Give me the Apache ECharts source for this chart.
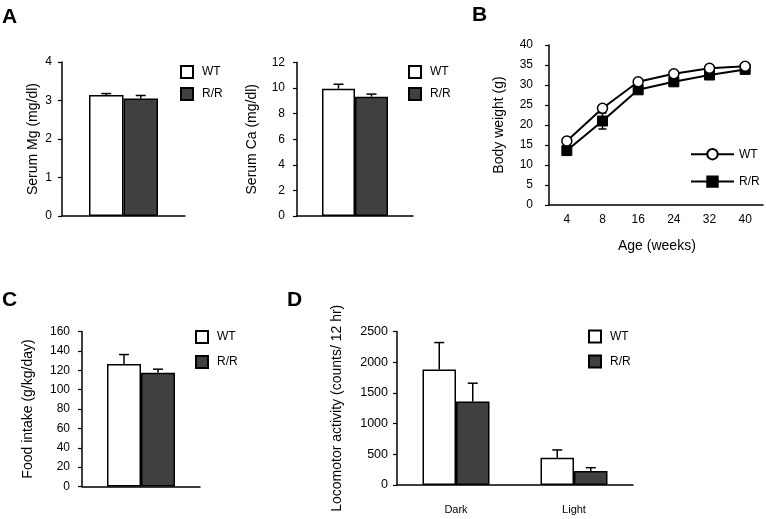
<!DOCTYPE html>
<html><head><meta charset="utf-8">
<script src="https://cdn.jsdelivr.net/npm/echarts@6/dist/echarts.min.js"></script>
<style>html,body{margin:0;padding:0;background:#fff}#c{width:766px;height:519px}</style>
</head><body><div id="c"></div>
<script>
// ---- data ----
const mgCats = ['Mg'];
const mgWT = [3.14], mgWTErr = [0.04];
const mgRR = [3.05], mgRRErr = [0.08];

const caCats = ['Ca'];
const caWT = [9.95], caWTErr = [0.35];
const caRR = [9.33], caRRErr = [0.2];

const ageCats = ['4', '8', '16', '24', '32', '40'];
const bwWT = [16.0, 24.2, 30.8, 32.8, 34.2, 34.7];
const bwWTErr = [0.5, 0.6, 0.5, 0.5, 0.6, 0.5];
const bwRR = [13.6, 21.0, 28.8, 30.8, 32.5, 33.9];
const bwRRErr = [0.6, 2.0, 0.6, 0.6, 0.6, 0.5];

const foodCats = ['Food'];
const foodWT = [126.5], foodWTErr = [9.7];
const foodRR = [117.5], foodRRErr = [3.6];

const locoCats = ['Dark', 'Light'];
const locoWT = [1880, 445], locoWTErr = [440, 126];
const locoRR = [1358, 228], locoRRErr = [300, 54];

const yTicksMg = [0, 4, 1], yTicksCa = [0, 12, 2], yTicksBW = [0, 40, 5], yTicksFood = [0, 160, 20], yTicksLoco = [0, 2500, 500];

// ---- styles ----
const FF = 'Liberation Sans, Arial, sans-serif';
const BLACK = '#000';
const DARK = '#404040';

function errData(vals, errs) { return vals.map((v, i) => [i, v, errs[i]]); }

function upErr(offset) {
  return function (params, api) {
    const x = api.value(0), v = api.value(1), e = api.value(2);
    const b = api.coord([x, v]), t = api.coord([x, v + e]);
    const cx = b[0] + offset, hw = 5;
    const st = { stroke: BLACK, lineWidth: 1.5 };
    return { type: 'group', children: [
      { type: 'line', shape: { x1: cx, y1: b[1], x2: cx, y2: t[1] }, style: st },
      { type: 'line', shape: { x1: cx - hw, y1: t[1], x2: cx + hw, y2: t[1] }, style: st }
    ]};
  };
}
function bothErr(params, api) {
  const x = api.value(0), v = api.value(1), e = api.value(2);
  const lo = api.coord([x, v - e]), hi = api.coord([x, v + e]);
  const cx = lo[0], hw = 4;
  const st = { stroke: BLACK, lineWidth: 1.5 };
  return { type: 'group', children: [
    { type: 'line', shape: { x1: cx, y1: lo[1], x2: cx, y2: hi[1] }, style: st },
    { type: 'line', shape: { x1: cx - hw, y1: lo[1], x2: cx + hw, y2: lo[1] }, style: st },
    { type: 'line', shape: { x1: cx - hw, y1: hi[1], x2: cx + hw, y2: hi[1] }, style: st }
  ]};
}

function yAxis(gi, ticks, name, nameGap, labelMargin, fs) {
  return {
    type: 'value', gridIndex: gi, min: ticks[0], max: ticks[1], interval: ticks[2],
    name: name, nameLocation: 'middle', nameGap: nameGap, nameRotate: 90,
    nameTextStyle: { fontFamily: FF, fontSize: 14, color: BLACK },
    axisLine: { show: true, lineStyle: { color: BLACK, width: 1.5 } },
    axisTick: { show: true, length: 4, lineStyle: { color: BLACK, width: 1.2 } },
    axisLabel: { fontFamily: FF, fontSize: fs || 12, color: BLACK, margin: labelMargin, formatter: v => String(v) },
    splitLine: { show: false }
  };
}
function xAxis(gi, cats, showLabels, margin, fs) {
  return {
    type: 'category', gridIndex: gi, data: cats,
    axisLine: { show: true, lineStyle: { color: BLACK, width: 1.5 } },
    axisTick: { show: false },
    axisLabel: { show: showLabels, fontFamily: FF, fontSize: fs || 12, color: BLACK, margin: margin || 8 },
    splitLine: { show: false }
  };
}
function barPair(gi, wt, rr, wtErr, rrErr, bw) {
  return [
    { name: 'WT', type: 'bar', xAxisIndex: gi, yAxisIndex: gi, data: wt, barWidth: bw, barGap: '0%',
      itemStyle: { color: '#fff', borderColor: BLACK, borderWidth: 1.5 } },
    { name: 'R/R', type: 'bar', xAxisIndex: gi, yAxisIndex: gi, data: rr, barWidth: bw, barGap: '0%',
      itemStyle: { color: DARK, borderColor: BLACK, borderWidth: 1.5 } },
    { type: 'custom', xAxisIndex: gi, yAxisIndex: gi, data: errData(wt, wtErr), renderItem: upErr(-bw / 2), z: 3, silent: true },
    { type: 'custom', xAxisIndex: gi, yAxisIndex: gi, data: errData(rr, rrErr), renderItem: upErr(bw / 2), z: 3, silent: true }
  ];
}
function barLegend(left, top, gap) {
  return {
    left: left, top: top, orient: 'vertical', padding: 0, itemWidth: 12, itemHeight: 12, itemGap: gap,
    icon: 'rect', selectedMode: false, data: ['WT', 'R/R'],
    textStyle: { fontFamily: FF, fontSize: 12, color: BLACK, padding: [0, 0, 0, 4] }
  };
}

const chart = echarts.init(document.getElementById('c'), null, { renderer: 'canvas' });
const option = {
  animation: false,
  backgroundColor: '#fff',
  grid: [
    { left: 62, top: 62, width: 123, height: 154 },
    { left: 297, top: 62.5, width: 116, height: 153.5 },
    { left: 549, top: 45, width: 214, height: 160 },
    { left: 82, top: 331.5, width: 118, height: 155 },
    { left: 397, top: 331.5, width: 236, height: 153.5 }
  ],
  xAxis: [
    xAxis(0, mgCats, false),
    xAxis(1, caCats, false),
    xAxis(2, ageCats, true, 9, 12),
    xAxis(3, foodCats, false),
    xAxis(4, locoCats, true, 19, 11)
  ],
  yAxis: [
    yAxis(0, yTicksMg, 'Serum Mg (mg/dl)', 22, 10),
    yAxis(1, yTicksCa, 'Serum Ca (mg/dl)', 38, 12),
    yAxis(2, yTicksBW, 'Body weight (g)', 43, 16),
    yAxis(3, yTicksFood, 'Food intake (g/kg/day)', 47, 12),
    yAxis(4, yTicksLoco, 'Locomotor activity (counts/ 12 hr)', 53, 9, 12.5)
  ],
  legend: [
    barLegend(180, 65, 8),
    barLegend(408, 65, 8),
    { left: 690, top: 148, orient: 'vertical', padding: 0, itemWidth: 43, itemHeight: 13, itemGap: 15,
      selectedMode: false, data: ['WT-line', 'R/R-line'], formatter: n => n.replace('-line', ''),
      textStyle: { fontFamily: FF, fontSize: 12, color: BLACK } },
    barLegend(195, 330, 11),
    barLegend(588, 329.5, 11)
  ],
  graphic: [
    { type: 'text', left: 2, top: 7, style: { text: 'A', font: 'bold 21px ' + FF, fill: BLACK } },
    { type: 'text', left: 472, top: 5, style: { text: 'B', font: 'bold 21px ' + FF, fill: BLACK } },
    { type: 'text', left: 2, top: 290, style: { text: 'C', font: 'bold 21px ' + FF, fill: BLACK } },
    { type: 'text', left: 287, top: 290, style: { text: 'D', font: 'bold 21px ' + FF, fill: BLACK } },
    { type: 'text', left: 618, top: 239, style: { text: 'Age (weeks)', font: '14px ' + FF, fill: BLACK } }
  ],
  series: [
    ...barPair(0, mgWT, mgRR, mgWTErr, mgRRErr, 34.5),
    ...barPair(1, caWT, caRR, caWTErr, caRRErr, 33),
    { type: 'custom', xAxisIndex: 2, yAxisIndex: 2, data: errData(bwWT, bwWTErr), renderItem: bothErr, z: 1, silent: true },
    { type: 'custom', xAxisIndex: 2, yAxisIndex: 2, data: errData(bwRR, bwRRErr), renderItem: bothErr, z: 1, silent: true },
    { name: 'WT-line', type: 'line', xAxisIndex: 2, yAxisIndex: 2, data: bwWT, z: 3,
      symbol: 'circle', symbolSize: 10, showAllSymbol: true,
      lineStyle: { color: BLACK, width: 2 },
      itemStyle: { color: '#fff', borderColor: BLACK, borderWidth: 1.5 } },
    { name: 'R/R-line', type: 'line', xAxisIndex: 2, yAxisIndex: 2, data: bwRR, z: 2,
      symbol: 'rect', symbolSize: 10, showAllSymbol: true,
      lineStyle: { color: BLACK, width: 2 },
      itemStyle: { color: BLACK, borderColor: BLACK, borderWidth: 1 } },
    ...barPair(3, foodWT, foodRR, foodWTErr, foodRRErr, 34),
    ...barPair(4, locoWT, locoRR, locoWTErr, locoRRErr, 33.5)
  ]
};
chart.setOption(option);
</script>
</body></html>
